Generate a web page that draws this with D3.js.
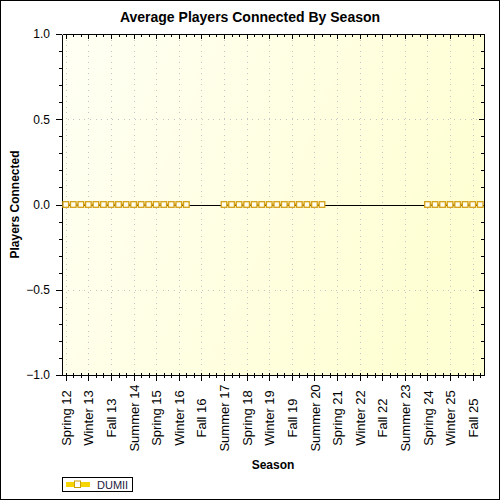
<!DOCTYPE html>
<html lang="en">
<head>
<meta charset="UTF-8">
<title>Average Players Connected By Season</title>
<script src="https://cdn.jsdelivr.net/npm/d3@7"></script>
<style>
  body { margin: 0; background: #fff; }
  text { font-family: Arial, "Liberation Sans", sans-serif; fill: #000; }
  .axis path, .axis line { fill: none; stroke: #000; shape-rendering: crispEdges; }
  .axis text { font-size: 12px; }
  .grid line { stroke: #c4c4c4; stroke-dasharray: 1,4.6; shape-rendering: crispEdges; }
</style>
</head>
<body>
<script>
// seasons on the x axis
var seasons = [
  "Spring 12", "Summer 12", "Fall 12", "Winter 13",
  "Spring 13", "Summer 13", "Fall 13", "Winter 14",
  "Spring 14", "Summer 14", "Fall 14", "Winter 15",
  "Spring 15", "Summer 15", "Fall 15", "Winter 16",
  "Spring 16", "Summer 16", "Fall 16", "Winter 17",
  "Spring 17", "Summer 17", "Fall 17", "Winter 18",
  "Spring 18", "Summer 18", "Fall 18", "Winter 19",
  "Spring 19", "Summer 19", "Fall 19", "Winter 20",
  "Spring 20", "Summer 20", "Fall 20", "Winter 21",
  "Spring 21", "Summer 21", "Fall 21", "Winter 22",
  "Spring 22", "Summer 22", "Fall 22", "Winter 23",
  "Spring 23", "Summer 23", "Fall 23", "Winter 24",
  "Spring 24", "Summer 24", "Fall 24", "Winter 25",
  "Spring 25", "Summer 25", "Fall 25", "Winter 26"
];
// labelled seasons (every third one)
var labelSeasons = [
  "Spring 12", "Winter 13", "Fall 13", "Summer 14", "Spring 15", "Winter 16",
  "Fall 16", "Summer 17", "Spring 18", "Winter 19", "Fall 19", "Summer 20",
  "Spring 21", "Winter 22", "Fall 22", "Summer 23", "Spring 24", "Winter 25", "Fall 25"
];
// DUMII series, null = no data
var dumii = [
  0, 0, 0, 0, 0, 0, 0, 0, 0, 0, 0, 0, 0, 0, 0, 0,
  0, null, null, null, null, 0, 0, 0, 0, 0, 0, 0,
  0, 0, 0, 0, 0, 0, 0, null, null, null, null, null,
  null, null, null, null, null, null, null, null, 0, 0, 0, 0,
  0, 0, 0, 0
];
var yTicks = [-1, -0.5, 0, 0.5, 1];
var seriesName = "DUMII";

var width = 500, height = 500;
var plot = {left: 62, right: 484, top: 34, bottom: 375};

var svg = d3.select("body").append("svg")
  .attr("width", width)
  .attr("height", height);

var defs = svg.append("defs");
var grad = defs.append("linearGradient")
  .attr("id", "bg")
  .attr("x1", "0").attr("y1", "0")
  .attr("x2", "1").attr("y2", "0.35");
grad.append("stop").attr("offset", "0").attr("stop-color", "#fffff4");
grad.append("stop").attr("offset", "1").attr("stop-color", "#ffffd4");

// outer frame
svg.append("rect")
  .attr("x", 0.5).attr("y", 0.5)
  .attr("width", width - 1).attr("height", height - 1)
  .attr("fill", "#fff").attr("stroke", "#000");

var x = d3.scalePoint()
  .domain(seasons)
  .range([plot.left, plot.right])
  .padding(0.5);

var y = d3.scaleLinear()
  .domain([-1, 1])
  .range([plot.bottom, plot.top]);

svg.append("rect")
  .attr("x", plot.left).attr("y", plot.top)
  .attr("width", plot.right - plot.left)
  .attr("height", plot.bottom - plot.top)
  .attr("fill", "url(#bg)");

// dotted grid
var grid = svg.append("g").attr("class", "grid");
grid.selectAll(".gx")
  .data(labelSeasons)
  .enter().append("line")
  .attr("x1", function(d){ return Math.round(x(d)) + 0.5; })
  .attr("x2", function(d){ return Math.round(x(d)) + 0.5; })
  .attr("y1", plot.top)
  .attr("y2", plot.bottom);
grid.selectAll(".gy")
  .data(yTicks)
  .enter().append("line")
  .attr("x1", plot.left)
  .attr("x2", plot.right)
  .attr("y1", function(d){ return Math.round(y(d)) + 0.5; })
  .attr("y2", function(d){ return Math.round(y(d)) + 0.5; });

// zero line
svg.append("line")
  .attr("x1", plot.left).attr("x2", plot.right)
  .attr("y1", Math.round(y(0)) + 0.5).attr("y2", Math.round(y(0)) + 0.5)
  .attr("stroke", "#000")
  .style("shape-rendering", "crispEdges");

var isMajor = function(d){ return labelSeasons.indexOf(d) >= 0; };
var minorY = d3.range(-10, 11).map(function(i){ return i / 10; });
var isMajorY = function(d){ return Math.abs(d * 2 - Math.round(d * 2)) < 1e-6; };

// bottom axis
var gx = svg.append("g")
  .attr("class", "axis")
  .attr("transform", "translate(0," + plot.bottom + ")")
  .call(d3.axisBottom(x).tickSizeOuter(0).tickFormat(function(d){ return isMajor(d) ? d : ""; }));
gx.selectAll(".tick line")
  .attr("y1", -2)
  .attr("y2", function(d){ return isMajor(d) ? 6 : 3; });
gx.selectAll(".tick text")
  .attr("transform", "rotate(-90)")
  .attr("x", -43)
  .attr("y", 0)
  .attr("dy", "0.35em")
  .style("font-size", "13px")
  .style("text-anchor", "middle");

// top axis (ticks only)
var gt = svg.append("g")
  .attr("class", "axis")
  .attr("transform", "translate(0," + plot.top + ")")
  .call(d3.axisBottom(x).tickSizeOuter(0).tickFormat(""));
gt.selectAll(".tick line")
  .attr("y2", function(d){ return isMajor(d) ? 5 : 3; });

// left axis
var gy = svg.append("g")
  .attr("class", "axis")
  .attr("transform", "translate(" + plot.left + ",0)")
  .call(d3.axisLeft(y).tickValues(minorY).tickSizeOuter(0)
    .tickFormat(function(d){ return isMajorY(d) ? d3.format(".1f")(d) : ""; }));
gy.selectAll(".tick line")
  .attr("x2", function(d){ return isMajorY(d) ? -6 : -3; })
  .attr("x1", 0);
gy.selectAll(".tick text").attr("x", -12);

// right axis (ticks only, inward)
var gr = svg.append("g")
  .attr("class", "axis")
  .attr("transform", "translate(" + plot.right + ",0)")
  .call(d3.axisLeft(y).tickValues(minorY).tickSizeOuter(0).tickFormat(""));
gr.selectAll(".tick line")
  .attr("x2", function(d){ return isMajorY(d) ? -5 : -3; });

// series
var pts = seasons.map(function(s, i){ return {s: s, v: dumii[i]}; });
var line = d3.line()
  .defined(function(d){ return d.v !== null; })
  .x(function(d){ return x(d.s); })
  .y(function(d){ return y(d.v); });

svg.append("path")
  .datum(pts)
  .attr("d", line)
  .attr("fill", "none")
  .attr("stroke", "#d4a017")
  .attr("stroke-width", 2);

svg.append("g").selectAll("rect")
  .data(pts.filter(function(d){ return d.v !== null; }))
  .enter().append("rect")
  .attr("x", function(d){ return x(d.s) - 2.8; })
  .attr("y", function(d){ return y(d.v) - 2.8; })
  .attr("width", 5.6)
  .attr("height", 5.6)
  .attr("fill", "#fffff0")
  .attr("stroke", "#d4a017")
  .attr("stroke-width", 1.3);

// titles
svg.append("text")
  .attr("x", 250).attr("y", 22)
  .attr("text-anchor", "middle")
  .style("font-size", "14px")
  .style("font-weight", "bold")
  .text("Average Players Connected By Season");

svg.append("text")
  .attr("transform", "translate(19," + ((plot.top + plot.bottom) / 2) + ") rotate(-90)")
  .attr("text-anchor", "middle")
  .style("font-size", "12px")
  .style("font-weight", "bold")
  .text("Players Connected");

svg.append("text")
  .attr("x", (plot.left + plot.right) / 2).attr("y", 469)
  .attr("text-anchor", "middle")
  .style("font-size", "12px")
  .style("font-weight", "bold")
  .text("Season");

// legend
var lg = svg.append("g").attr("transform", "translate(62,477)");
lg.append("rect")
  .attr("x", 0.5).attr("y", 0.5)
  .attr("width", 70).attr("height", 14)
  .attr("fill", "#fff").attr("stroke", "#000");
lg.append("line")
  .attr("x1", 4).attr("x2", 28)
  .attr("y1", 7.5).attr("y2", 7.5)
  .attr("stroke", "#f5d400")
  .attr("stroke-width", 5);
lg.append("rect")
  .attr("x", 12.5).attr("y", 4).attr("width", 6).attr("height", 6.5)
  .attr("fill", "#fff").attr("stroke", "#c8a000").attr("stroke-width", 1);
lg.append("text")
  .attr("x", 35).attr("y", 11.5)
  .style("font-size", "11px")
  .style("fill", "#1a1a40")
  .text(seriesName);
</script>
</body>
</html>
